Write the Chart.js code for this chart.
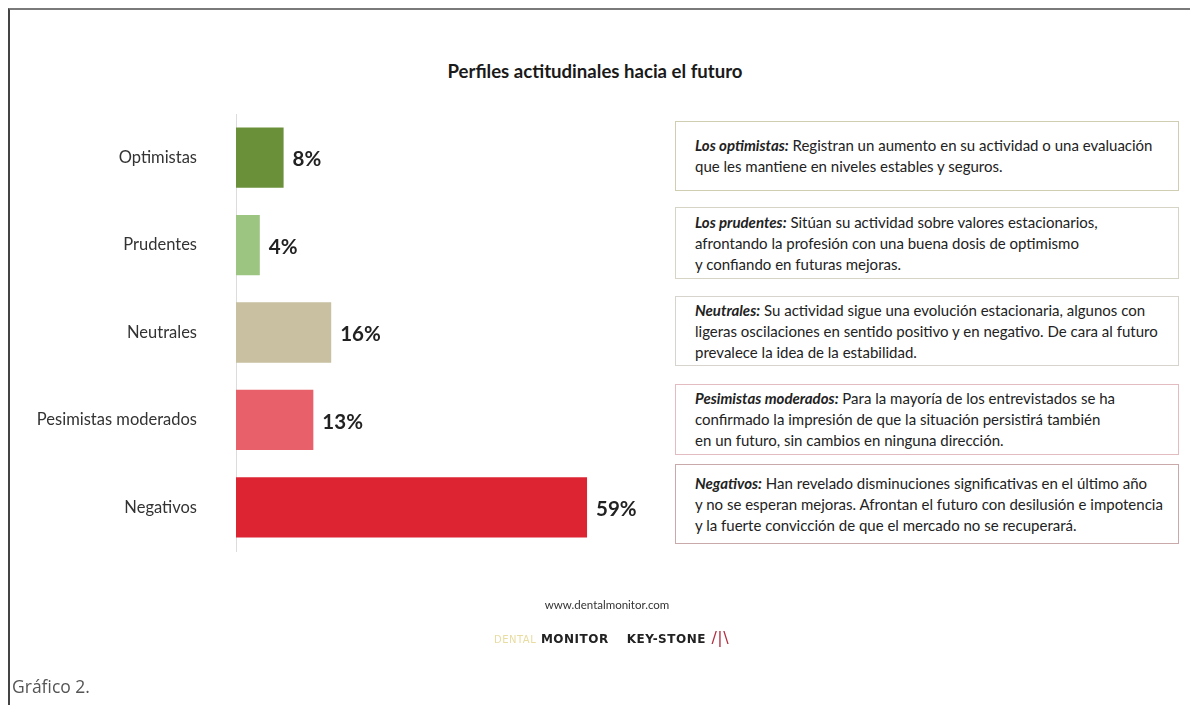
<!DOCTYPE html>
<html>
<head>
<meta charset="utf-8">
<script src="https://cdn.jsdelivr.net/npm/chart.js@4"></script>
<style>
  body { margin: 0; width: 1190px; height: 705px; background: #fff; overflow: hidden; font-family: Lato, "Open Sans", sans-serif; position: relative; }
  .frame { position: absolute; left: 8px; top: 8px; right: 0; bottom: 0; border-top: 2px solid #7a7a7a; border-left: 2px solid #444; }
  .titulo { position: absolute; left: 0; width: 1190px; top: 60px; text-align: center; font-size: 18.6px; font-weight: bold; color: #1a1a1a; }
  #wrap { position: absolute; left: 0; top: 0; width: 660px; height: 705px; }
  .caja { position: absolute; left: 675px; width: 483px; padding: 0 0 0 19px; box-sizing: content-box; border: 1.5px solid #ccc; font-size: 15px; line-height: 21px; color: #222; display: flex; flex-direction: column; justify-content: center; white-space: nowrap; }
  .caja b { font-style: italic; }
  .web { position: absolute; left: 0; width: 1214px; top: 598px; text-align: center; font-size: 11.5px; color: #333; }
  .logos { position: absolute; left: 494px; top: 628px; font-family: "DejaVu Sans", sans-serif; font-weight: bold; font-size: 12px; letter-spacing: 0.5px; }
  .grafico { position: absolute; left: 12px; top: 674px; font-size: 17.5px; color: #555; font-family: "Open Sans", sans-serif; font-weight: 400; }
</style>
</head>
<body>
<div class="frame"></div>
<div class="titulo">Perfiles actitudinales hacia el futuro</div>
<div id="wrap"><canvas id="grafica"></canvas></div>
<div id="cajas"></div>
<div class="web">www.dentalmonitor.com</div>
<div class="logos"><span style="color:#e8dca0;font-weight:normal;font-size:10px">DENTAL</span><span style="color:#222"> MONITOR</span><span style="color:#222;margin-left:18px">KEY-STONE</span><span style="color:#b03040;font-weight:normal;font-size:16px"> /|\</span></div>
<div class="grafico">Gráfico 2.</div>
<script>
const categorias = ['Optimistas', 'Prudentes', 'Neutrales', 'Pesimistas moderados', 'Negativos'];
const porcentajes = [8, 4, 16, 13, 59];
const colores = ['#6a9139', '#9cc582', '#c9bfa1', '#e8606a', '#dc2433'];

const titulosCaja = ['Los optimistas:', 'Los prudentes:', 'Neutrales:', 'Pesimistas moderados:', 'Negativos:'];
const textosCaja = [
    ['Registran un aumento en su actividad o una evaluación', 'que les mantiene en niveles estables y seguros.'],
    ['Sitúan su actividad sobre valores estacionarios,', 'afrontando la profesión con una buena dosis de optimismo', 'y confiando en futuras mejoras.'],
    ['Su actividad sigue una evolución estacionaria, algunos con', 'ligeras oscilaciones en sentido positivo y en negativo. De cara al futuro', 'prevalece la idea de la estabilidad.'],
    ['Para la mayoría de los entrevistados se ha', 'confirmado la impresión de que la situación persistirá también', 'en un futuro, sin cambios en ninguna dirección.'],
    ['Han revelado disminuciones significativas en el último año', 'y no se esperan mejoras. Afrontan el futuro con desilusión e impotencia', 'y la fuerte convicción de que el mercado no se recuperará.']
];

// cajas de texto a la derecha
const cajasPos = [[121, 68], [207, 70], [296, 68], [384, 69], [464, 78]];
const bordes = ['#cfcdb2', '#d6d4c4', '#d6d4cc', '#e2bcc0', '#c9a9a9'];
const cont = document.getElementById('cajas');
textosCaja.forEach((lineas, i) => {
    const d = document.createElement('div');
    d.className = 'caja';
    d.style.top = cajasPos[i][0] + 'px';
    d.style.height = cajasPos[i][1] + 'px';
    d.style.borderColor = bordes[i];
    d.innerHTML = lineas.map((l, j) =>
        '<div>' + (j === 0 ? '<b>' + titulosCaja[i] + '</b> ' : '') + l + '</div>'
    ).join('');
    cont.appendChild(d);
});

// etiquetas de porcentaje al final de cada barra
const etiquetas = {
    id: 'etiquetas',
    afterDatasetsDraw(chart) {
        const ctx = chart.ctx;
        ctx.save();
        ctx.font = 'bold 20.5px Lato, sans-serif';
        ctx.fillStyle = '#222';
        ctx.textBaseline = 'middle';
        chart.getDatasetMeta(0).data.forEach((bar, i) => {
            ctx.fillText(porcentajes[i] + '%', bar.x + 9, bar.y + 2);
        });
        ctx.restore();
    }
};

new Chart(document.getElementById('grafica'), {
    type: 'bar',
    data: {
        labels: categorias,
        datasets: [{
            data: porcentajes,
            backgroundColor: colores,
            categoryPercentage: 1,
            barPercentage: 0.69
        }]
    },
    options: {
        indexAxis: 'y',
        responsive: true,
        maintainAspectRatio: false,
        animation: false,
        layout: { padding: { top: 114, bottom: 154, right: 7.5, left: 0 } },
        plugins: { legend: { display: false }, tooltip: { enabled: false } },
        scales: {
            x: { display: false, min: 0, max: 70 },
            y: {
                afterFit(scale) { scale.width = 236; },
                grid: { display: false, drawTicks: false },
                border: { display: true, color: '#dcdcdc', width: 1 },
                ticks: {
                    padding: 39,
                    color: '#333',
                    font: { family: 'Lato, sans-serif', size: 16.5 }
                }
            }
        }
    },
    plugins: [etiquetas]
});
</script>
</body>
</html>
